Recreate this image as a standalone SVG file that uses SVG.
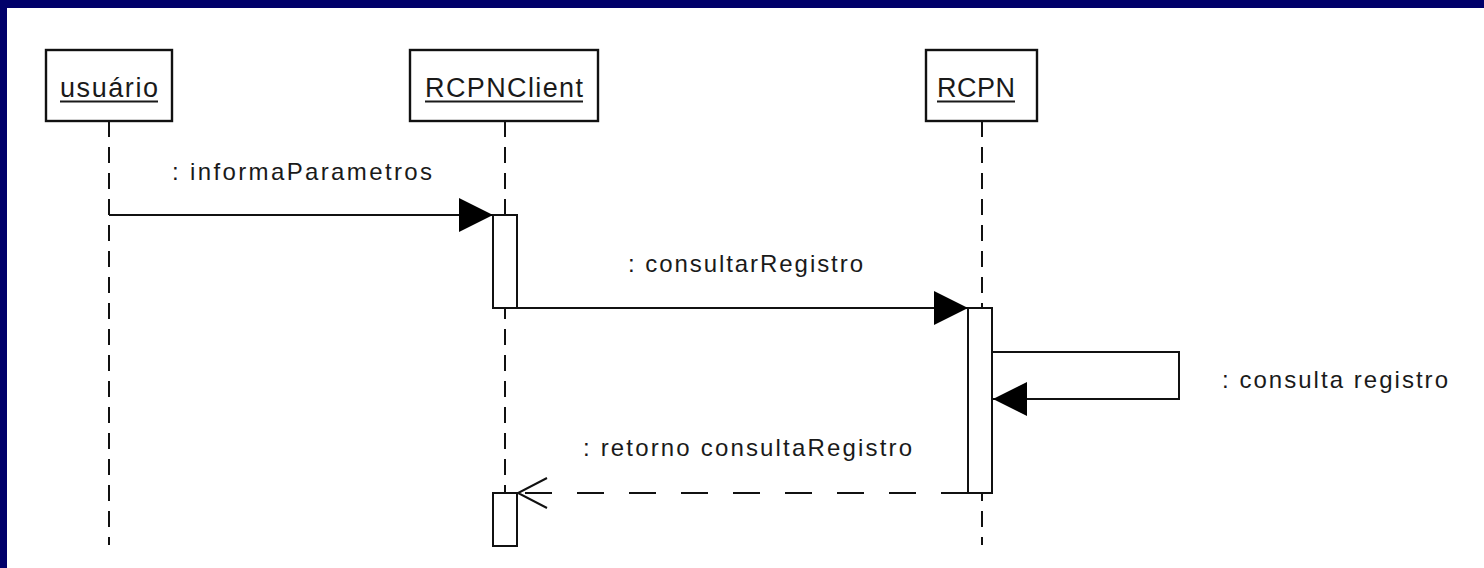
<svg xmlns="http://www.w3.org/2000/svg" width="1484" height="568" viewBox="0 0 1484 568">
<defs>
<style>
.box{fill:#fff;stroke:#111;stroke-width:2.4}
.lbl{font-family:"Liberation Sans",Arial,sans-serif;font-size:27px;fill:#1a1a1a}
.msg{font-family:"Liberation Sans",Arial,sans-serif;font-size:24px;fill:#1a1a1a}
.ul{stroke:#1a1a1a;stroke-width:2}
.life{stroke:#111;stroke-width:2;stroke-dasharray:16 10;fill:none}
.act{fill:#fff;stroke:#111;stroke-width:2}
.line{stroke:#111;stroke-width:2;fill:none}
.dash{stroke:#111;stroke-width:2;fill:none;stroke-dasharray:27 25}
</style>
<marker id="filled" markerUnits="userSpaceOnUse" markerWidth="36" markerHeight="36" refX="34" refY="17" orient="auto">
<path d="M0,0 L34,17 L0,34 Z" fill="#000"/>
</marker>
<marker id="open" markerUnits="userSpaceOnUse" markerWidth="34" markerHeight="34" refX="31" refY="17" orient="auto">
<path d="M2,2 L31,17 L2,32" fill="none" stroke="#111" stroke-width="2"/>
</marker>
</defs>
<rect x="0" y="0" width="1484" height="568" fill="#00006a"/>
<rect x="7" y="8" width="1477" height="560" fill="#fff"/>

<g id="lifelines">
<line class="life" x1="109" y1="121" x2="109" y2="545"/>
<line class="life" x1="505" y1="121" x2="505" y2="545"/>
<line class="life" x1="982" y1="121" x2="982" y2="545"/>
</g>

<g id="usuario">
<rect class="box" x="46" y="50" width="126" height="71"/>
<text class="lbl" x="60" y="97" textLength="98" lengthAdjust="spacing">usuário</text>
<line class="ul" x1="60" y1="101.5" x2="158" y2="101.5"/>
</g>

<g id="rcpnclient">
<rect class="box" x="410" y="50" width="188" height="71"/>
<text class="lbl" x="425" y="97" textLength="158" lengthAdjust="spacing">RCPNClient</text>
<line class="ul" x1="425" y1="101.5" x2="583" y2="101.5"/>
<rect class="act" x="493" y="215" width="24" height="93"/>
<rect class="act" x="493" y="493" width="24" height="53"/>
</g>

<g id="rcpn">
<rect class="box" x="926" y="50" width="111" height="71"/>
<text class="lbl" x="937" y="97" textLength="78" lengthAdjust="spacing">RCPN</text>
<line class="ul" x1="937" y1="101.5" x2="1015" y2="101.5"/>
<rect class="act" x="968" y="308" width="24" height="185"/>
</g>

<g id="connectors">
<line class="line" x1="109" y1="215" x2="493" y2="215" marker-end="url(#filled)"/>
<line class="line" x1="517" y1="308" x2="968" y2="308" marker-end="url(#filled)"/>
<polyline class="line" points="992,352 1179,352 1179,399 993,399" marker-end="url(#filled)"/>
<line class="dash" x1="968" y1="493" x2="518" y2="493" marker-end="url(#open)"/>
</g>

<g id="labels">
<text class="msg" x="172" y="180" textLength="260" lengthAdjust="spacing">: informaParametros</text>
<text class="msg" x="628" y="272" textLength="235" lengthAdjust="spacing">: consultarRegistro</text>
<text class="msg" x="1222" y="388" textLength="226" lengthAdjust="spacing">: consulta registro</text>
<text class="msg" x="583" y="456" textLength="329" lengthAdjust="spacing">: retorno consultaRegistro</text>
</g>
</svg>
